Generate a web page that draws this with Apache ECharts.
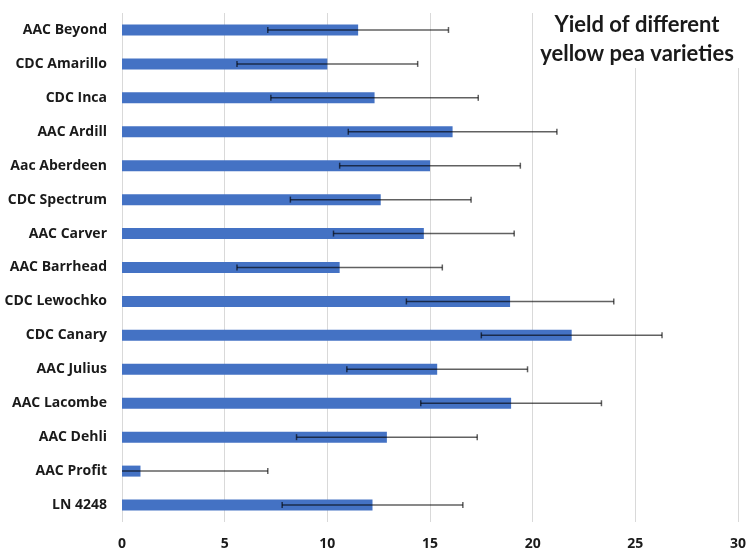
<!DOCTYPE html>
<html>
<head>
<meta charset="utf-8">
<script src="https://cdn.jsdelivr.net/npm/echarts@6/dist/echarts.min.js"></script>
<style>html,body{margin:0;padding:0;background:#fff}#c{width:753px;height:554px}</style>
</head>
<body>
<div id="c"></div>
<script>
const categories = ["AAC Beyond","CDC Amarillo","CDC Inca","AAC Ardill","Aac Aberdeen","CDC Spectrum","AAC Carver","AAC Barrhead","CDC Lewochko","CDC Canary","AAC Julius","AAC Lacombe","AAC Dehli","AAC Profit","LN 4248"];
const yields = [11.5, 10.0, 12.3, 16.1, 15.0, 12.6, 14.7, 10.6, 18.9, 21.9, 15.35, 18.95, 12.9, 0.9, 12.2];
const errors = [4.4, 4.4, 5.05, 5.08, 4.4, 4.4, 4.4, 5.0, 5.05, 4.4, 4.4, 4.4, 4.4, 6.2, 4.4];
const xTicks = [0, 5, 10, 15, 20, 25, 30];
const titleLines = ["Yield of different", "yellow pea varieties"];

const chart = echarts.init(document.getElementById('c'));
const errData = categories.map((c, i) => [i, yields[i] - errors[i], yields[i] + errors[i]]);
const font = '"Open Sans", Lato, sans-serif';
chart.setOption({
  animation: false,
  backgroundColor: '#fff',
  graphic: [
    { type: 'rect', z: 100, shape: { x: 535, y: 6, width: 212, height: 62 }, style: { fill: '#fff' } },
    { type: 'text', z: 101, x: 637, y: 10,
      style: { text: titleLines.join('\n'), textAlign: 'center', textVerticalAlign: 'top',
        font: 'bold 22px Lato, sans-serif', lineHeight: 29, fill: '#1a1a1a' } }
  ],
  grid: { left: 122, right: 15, top: 13, bottom: 32, containLabel: false },
  xAxis: {
    type: 'value', min: xTicks[0], max: xTicks[xTicks.length - 1], interval: 5,
    axisLine: { show: false }, axisTick: { show: false },
    splitLine: { lineStyle: { color: '#d9d9d9', width: 1 } },
    axisLabel: { fontFamily: font, fontWeight: 'bold', fontSize: 14, color: '#1a1a1a', margin: 15 }
  },
  yAxis: {
    type: 'category', data: categories, inverse: true,
    axisLine: { show: false }, axisTick: { show: false },
    axisLabel: { fontFamily: font, fontWeight: 'bold', fontSize: 14, color: '#1a1a1a', margin: 15 }
  },
  series: [
    { type: 'bar', data: yields, barWidth: 11, itemStyle: { color: '#4472C4' } },
    {
      type: 'custom', clip: true, z: 5,
      data: errData,
      encode: { y: 0, x: [1, 2] },
      renderItem: function (params, api) {
        const y = api.value(0);
        const lo = api.coord([api.value(1), y]);
        const hi = api.coord([api.value(2), y]);
        const h = 3;
        const st = { stroke: 'rgba(0,0,0,0.62)', lineWidth: 1.5 };
        return {
          type: 'group',
          children: [
            { type: 'line', shape: { x1: lo[0], y1: lo[1], x2: hi[0], y2: hi[1] }, style: st },
            { type: 'line', shape: { x1: lo[0], y1: lo[1] - h, x2: lo[0], y2: lo[1] + h }, style: st },
            { type: 'line', shape: { x1: hi[0], y1: hi[1] - h, x2: hi[0], y2: hi[1] + h }, style: st }
          ]
        };
      }
    }
  ]
});
</script>
</body>
</html>
